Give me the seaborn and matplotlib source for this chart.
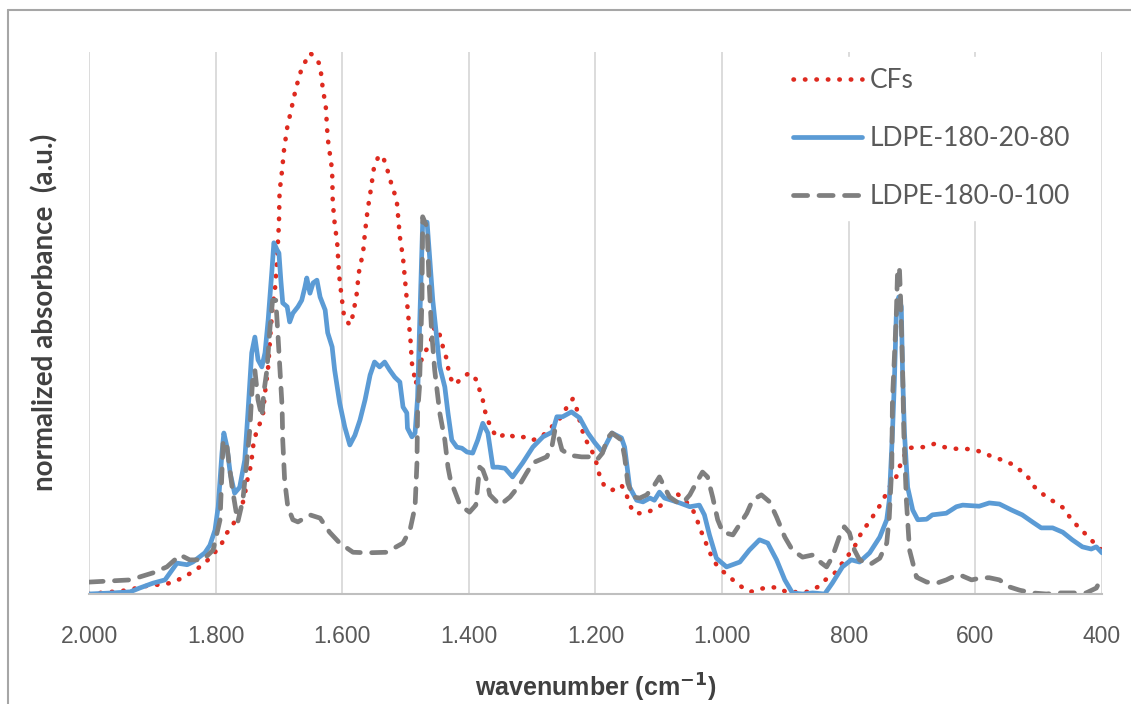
import seaborn as sns
import pandas as pd
import matplotlib.pyplot as plt
from matplotlib.lines import Line2D

# wavenumber (cm-1) / normalized absorbance
cfs_wn = [2000, 1983, 1964, 1946, 1924, 1901, 1883, 1867, 1852, 1836, 1825, 1812, 1801, 1790, 1782,
          1773, 1765, 1758, 1754, 1749, 1744, 1742, 1740, 1736, 1730, 1725, 1722, 1717, 1713, 1710,
          1706, 1703, 1700, 1699, 1695, 1692, 1687, 1680, 1673, 1664, 1651, 1643, 1635, 1631, 1626,
          1623, 1616, 1615, 1612, 1608, 1605, 1601, 1597, 1588, 1583, 1577, 1574, 1567, 1564, 1560,
          1555, 1550, 1544, 1537, 1531, 1522, 1514, 1509, 1504, 1501, 1498, 1495, 1492, 1490, 1487,
          1484, 1473, 1462, 1454, 1446, 1441, 1436, 1433, 1430, 1422, 1410, 1399, 1388, 1383, 1378,
          1375, 1370, 1364, 1354, 1340, 1326, 1310, 1299, 1285, 1272, 1260, 1245, 1236, 1230, 1222,
          1217, 1209, 1201, 1193, 1185, 1173, 1159, 1151, 1146, 1138, 1122, 1110, 1096, 1083, 1072,
          1059, 1048, 1040, 1036, 1028, 1023, 1015, 1007, 996, 983, 969, 955, 941, 925, 909,
          897, 881, 865, 849, 837, 822, 803, 791, 778, 767, 758, 748, 736, 725, 720,
          707, 693, 680, 665, 649, 633, 617, 601, 586, 573, 557, 543, 530, 518, 510,
          499, 486, 472, 459, 450, 440, 428, 417, 407, 400]
cfs_abs = [0.0, 0.2, 0.4, 0.6, 1.1, 1.7, 1.7, 2.2, 3.0, 4.1, 5.0, 6.3, 7.7, 9.4, 11.3,
           12.7, 14.6, 16.4, 18.3, 21.6, 23.8, 26.0, 27.9, 29.7, 31.5, 33.4, 37.1, 41.9, 48.7, 53.0,
           56.6, 61.6, 68.4, 74.2, 78.2, 81.9, 86.0, 89.7, 93.4, 97.0, 99.8, 99.1, 97.6, 93.5, 89.9,
           84.1, 78.2, 72.3, 68.4, 64.8, 58.9, 54.8, 51.1, 49.6, 51.5, 55.5, 59.2, 63.1, 66.8, 70.8,
           74.5, 78.6, 80.4, 81.0, 79.2, 75.5, 72.7, 65.9, 62.0, 58.1, 54.2, 50.2, 46.5, 42.6, 40.8,
           38.7, 44.1, 45.9, 49.3, 47.8, 45.6, 43.7, 41.9, 40.0, 38.6, 40.0, 40.8, 39.5, 37.6, 35.8,
           33.9, 32.1, 30.3, 28.8, 29.7, 28.8, 29.0, 28.4, 29.0, 30.6, 31.7, 34.5, 36.0, 34.3, 30.6,
           28.8, 27.1, 25.3, 21.6, 19.7, 19.2, 20.1, 18.3, 16.4, 14.9, 14.9, 15.5, 16.4, 17.9, 18.6,
           17.3, 15.9, 14.0, 12.2, 10.3, 8.5, 6.6, 5.0, 3.9, 2.6, 1.3, 0.4, 0.9, 1.3, 1.1,
           0.2, 0.4, 0.4, 1.3, 2.6, 3.9, 6.8, 8.7, 11.8, 13.3, 15.1, 16.8, 19.7, 21.6, 23.4,
           26.9, 27.1, 27.1, 27.7, 27.1, 26.8, 26.8, 26.6, 26.0, 25.3, 24.7, 24.0, 22.9, 21.8, 20.1,
           19.0, 17.7, 16.8, 15.7, 14.0, 12.7, 11.3, 10.0, 8.7, 8.1]

ldpe80_wn = [2000, 1962, 1935, 1920, 1899, 1880, 1861, 1845, 1836, 1817, 1809, 1801, 1796, 1790, 1787,
             1782, 1777, 1770, 1762, 1754, 1749, 1743, 1738, 1733, 1727, 1722, 1717, 1711, 1708, 1703,
             1700, 1697, 1694, 1687, 1683, 1678, 1670, 1664, 1659, 1656, 1651, 1646, 1640, 1635, 1627,
             1623, 1616, 1612, 1604, 1596, 1588, 1580, 1572, 1564, 1556, 1549, 1541, 1533, 1525, 1517,
             1509, 1504, 1498, 1497, 1490, 1485, 1481, 1478, 1474, 1473, 1466, 1462, 1457, 1451, 1446,
             1438, 1433, 1427, 1419, 1411, 1403, 1394, 1386, 1378, 1370, 1362, 1354, 1343, 1331, 1315,
             1299, 1283, 1268, 1261, 1252, 1238, 1225, 1212, 1201, 1189, 1182, 1174, 1159, 1154, 1146,
             1135, 1125, 1114, 1107, 1099, 1091, 1080, 1067, 1051, 1036, 1028, 1020, 1009, 993, 972,
             957, 941, 928, 914, 901, 889, 873, 857, 838, 826, 810, 796, 783, 767, 751,
             740, 736, 731, 728, 725, 721, 717, 715, 712, 707, 699, 691, 677, 668, 646,
             630, 620, 594, 578, 562, 543, 526, 510, 496, 478, 462, 447, 431, 417, 409, 400]
ldpe80_abs = [0.0, 0.2, 0.4, 1.1, 2.0, 2.6, 5.7, 5.4, 5.9, 7.6, 9.0, 11.8, 16.1, 26.0, 29.7,
              27.1, 22.3, 18.6, 19.7, 24.7, 33.4, 44.5, 47.4, 43.2, 41.9, 44.5, 50.6, 59.8, 64.8, 63.5,
              62.9, 57.9, 53.7, 53.0, 50.2, 51.8, 53.0, 54.2, 56.6, 58.3, 55.5, 57.4, 57.9, 54.8, 52.4,
              48.2, 45.6, 41.3, 35.2, 30.8, 27.5, 29.3, 32.1, 35.8, 40.4, 42.8, 41.9, 42.8, 41.3, 40.0,
              39.1, 34.5, 33.4, 30.6, 29.0, 29.7, 36.3, 48.7, 64.0, 68.4, 68.6, 62.2, 54.2, 47.4, 41.9,
              38.2, 33.4, 28.4, 27.1, 26.9, 26.2, 26.0, 28.4, 31.5, 29.7, 23.4, 23.4, 23.2, 21.6, 24.2,
              27.1, 29.0, 29.9, 32.7, 32.7, 33.6, 32.5, 29.7, 27.9, 26.2, 27.9, 29.7, 28.8, 27.1, 19.7,
              17.3, 17.0, 17.7, 17.3, 18.8, 17.7, 17.3, 16.8, 16.1, 16.4, 14.6, 10.9, 6.6, 5.0, 5.9,
              8.1, 10.0, 9.4, 6.3, 2.6, 0.2, 0.0, 0.2, 0.0, 2.0, 5.0, 6.3, 5.9, 7.6, 10.5,
              13.7, 17.3, 29.7, 38.9, 51.1, 54.8, 53.0, 40.8, 29.7, 19.7, 15.5, 13.7, 13.8, 14.6, 14.9,
              16.1, 16.4, 16.2, 16.8, 16.6, 15.5, 14.6, 13.3, 12.2, 12.2, 11.4, 10.0, 8.7, 8.3, 8.7, 7.6]

ldpe100_wn = [2000, 1935, 1899, 1877, 1856, 1841, 1820, 1804, 1793, 1788, 1782, 1774, 1765, 1757, 1751,
              1746, 1741, 1738, 1733, 1727, 1724, 1719, 1714, 1710, 1705, 1702, 1699, 1695, 1694, 1691,
              1686, 1678, 1670, 1651, 1635, 1620, 1604, 1583, 1560, 1530, 1504, 1493, 1485, 1482, 1481,
              1478, 1474, 1473, 1466, 1463, 1459, 1454, 1446, 1438, 1433, 1429, 1414, 1399, 1389, 1383,
              1378, 1372, 1367, 1351, 1335, 1320, 1309, 1299, 1277, 1269, 1264, 1260, 1253, 1241, 1222,
              1209, 1198, 1189, 1181, 1174, 1159, 1154, 1149, 1141, 1130, 1119, 1107, 1099, 1091, 1083,
              1072, 1062, 1051, 1040, 1031, 1023, 1015, 1007, 999, 983, 961, 952, 938, 925, 914,
              901, 889, 873, 857, 843, 835, 826, 815, 807, 799, 791, 783, 767, 751, 740,
              736, 732, 731, 725, 723, 720, 718, 715, 713, 709, 704, 693, 677, 661, 646,
              630, 620, 606, 590, 578, 562, 546, 530, 510, 488, 467, 447, 425, 409, 400]
ldpe100_abs = [2.2, 2.6, 3.9, 5.0, 7.2, 6.3, 6.3, 8.1, 13.7, 28.4, 27.1, 19.7, 13.3, 17.3, 24.2,
               30.3, 40.8, 41.3, 35.8, 32.7, 37.1, 41.3, 49.3, 54.2, 54.2, 48.7, 42.6, 34.5, 28.4, 21.0,
               16.1, 13.7, 13.3, 14.6, 14.0, 11.4, 9.4, 7.7, 7.6, 7.7, 9.4, 11.8, 16.1, 24.2, 33.4,
               38.2, 54.8, 69.6, 67.7, 57.9, 48.7, 41.3, 33.4, 28.4, 23.4, 21.0, 16.4, 15.1, 16.4, 23.4,
               22.9, 21.0, 18.3, 16.4, 17.9, 20.1, 22.3, 24.2, 25.3, 27.1, 30.3, 29.7, 26.6, 25.6, 25.3,
               25.3, 24.7, 26.0, 28.8, 29.7, 28.4, 25.3, 20.5, 17.9, 17.7, 18.3, 20.1, 21.6, 19.7, 17.9,
               17.0, 16.8, 18.3, 20.7, 22.5, 21.6, 17.9, 13.7, 11.4, 10.9, 14.9, 17.3, 18.3, 17.0, 14.2,
               10.5, 8.1, 6.8, 7.2, 5.7, 5.0, 6.8, 10.5, 12.4, 11.3, 8.1, 6.3, 5.4, 6.6, 9.4,
               14.2, 23.4, 35.8, 51.1, 59.2, 60.3, 54.2, 41.9, 29.7, 17.3, 8.1, 3.1, 2.2, 2.0, 2.6,
               3.5, 3.3, 2.6, 3.0, 3.0, 2.6, 1.3, 0.7, 0.2, 0.0, 0.2, 0.2, 0.2, 1.1, 3.1]

x_ticks = [2000, 1800, 1600, 1400, 1200, 1000, 800, 600, 400]
x_tick_labels = ['2.000', '1.800', '1.600', '1.400', '1.200', '1.000', '800', '600', '400']

sns.set_style('white')
plt.rcParams['font.family'] = ['Liberation Sans Narrow', 'Liberation Sans', 'DejaVu Sans']
plt.rcParams['mathtext.fontset'] = 'custom'
plt.rcParams['mathtext.rm'] = 'Liberation Sans Narrow'
plt.rcParams['mathtext.bf'] = 'Liberation Sans Narrow:bold'

df_cfs = pd.DataFrame({'wn': cfs_wn, 'abs': cfs_abs})
df_80 = pd.DataFrame({'wn': ldpe80_wn, 'abs': ldpe80_abs})
df_100 = pd.DataFrame({'wn': ldpe100_wn, 'abs': ldpe100_abs})

fig = plt.figure(figsize=(11.31, 7.04), dpi=100)
ax = fig.add_axes([89 / 1131, 110 / 704, 1013 / 1131, 542 / 704])

sns.lineplot(data=df_cfs, x='wn', y='abs', ax=ax, color='#de2a1f', linewidth=3.3,
             linestyle=(0, (0.1, 2.4)), dash_capstyle='round', label='CFs', sort=False, estimator=None)
sns.lineplot(data=df_80, x='wn', y='abs', ax=ax, color='#5b9bd5', linewidth=3.4,
             label='LDPE-180-20-80', sort=False, estimator=None)
sns.lineplot(data=df_100, x='wn', y='abs', ax=ax, color='#7f7f7f', linewidth=3.4,
             linestyle=(0, (3, 2.4)), dash_capstyle='round', label='LDPE-180-0-100', sort=False, estimator=None)

ax.set_xlim(2000, 400)
ax.set_ylim(0, 100)
ax.set_xticks(x_ticks)
ax.set_xticklabels(x_tick_labels)
ax.set_yticks([])
ax.tick_params(axis='x', length=0, pad=22, labelsize=16.5, labelcolor='#595959')
ax.grid(axis='x', color='#d9d9d9', linewidth=1.3)
for s in ['top', 'right', 'left']:
    ax.spines[s].set_visible(False)
ax.spines['bottom'].set_color('#bfbfbf')
ax.spines['bottom'].set_linewidth(1.5)

ax.set_xlabel(r'wavenumber (cm$^{\mathbf{-1}}$)', fontsize=18, fontweight='bold', color='#404040')
ax.xaxis.set_label_coords(0.5, -0.173)
ax.xaxis.label.set_verticalalignment('center')
ax.set_ylabel('normalized absorbance  (a.u.)', fontsize=20, fontweight='bold', color='#404040',
              family=['Lato', 'DejaVu Sans'])
ax.yaxis.set_label_coords(-0.0434, 0.52)
ax.yaxis.label.set_verticalalignment('center')

leg = ax.legend(loc='upper left', bbox_to_anchor=(0.685, 0.99), frameon=True, facecolor='white',
                edgecolor='white', framealpha=1, handlelength=2.6, handletextpad=0.3,
                labelspacing=1.25, borderpad=0.4, borderaxespad=0,
                prop={'family': ['Lato', 'DejaVu Sans'], 'size': 19})
for t in leg.get_texts():
    t.set_color('#595959')

# outer chart border (left and top edges visible)
fig.add_artist(Line2D([8 / 1131, 8 / 1131], [0, 1 - 10 / 704], color='#a6a6a6', linewidth=1.5))
fig.add_artist(Line2D([8 / 1131, 1], [1 - 10 / 704, 1 - 10 / 704], color='#a6a6a6', linewidth=1.5))

fig.savefig('out.png', dpi=100)
